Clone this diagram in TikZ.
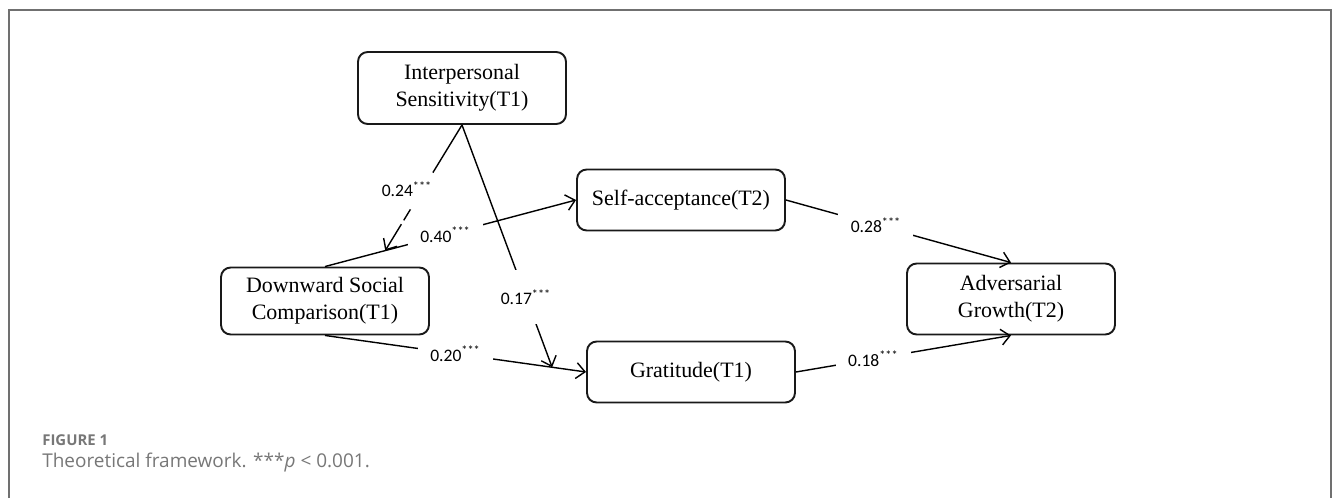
\documentclass[tikz,border=0pt]{standalone}
\usepackage{fontspec}
\setmainfont{Liberation Serif}
\newfontfamily\numfont{Carlito}
\newfontfamily\capfont{Open Sans}
\usetikzlibrary{arrows.meta,calc}
\definecolor{capgray}{HTML}{777777}
\definecolor{framegray}{HTML}{707070}
\tikzset{
  var/.style={draw=black!90, line width=1.1pt, rounded corners=5.5pt,
    minimum width=4.16cm, align=center, font=\fontsize{12.5}{15.5}\selectfont},
  eff/.style={line width=0.8pt, -{Straight Barb[length=5pt,width=9pt]}},
  coef/.style={font=\numfont\fontsize{10}{11}\selectfont, fill=white,
    inner xsep=7pt, inner ysep=3pt},
}
\begin{document}
\begin{tikzpicture}[x=0.02cm,y=-0.02cm]
    \useasboundingbox (0,0) rectangle (1333,498);
    \draw [framegray, line width=1pt] (9,498) -- (9,10) -- (1331,10) -- (1331,498);
    \node [var, minimum height=1.44cm] (is) at (462,88) {Interpersonal\\Sensitivity(T1)};
    \node [var, minimum height=1.22cm] (sa) at (681,200) {Self-acceptance(T2)};
    \node [var, minimum height=1.34cm] (dsc) at (325,301) {Downward Social\\Comparison(T1)};
    \node [var, minimum height=1.42cm] (ag) at (1011,299) {Adversarial\\Growth(T2)};
    \node [var, minimum height=1.22cm] (gr) at (691,372) {Gratitude(T1)};
    \coordinate (m1) at ($(dsc.north)!0.24!(sa.west)$);
    \coordinate (m2) at ($(dsc.south)!0.87!(gr.west)$);
    \draw [eff] (dsc.north) -- node [coef, pos=0.48] {0.40\textsuperscript{***}} (sa.west);
    \draw [eff, dash pattern=on 31.8pt off 24.5pt on 7.3pt off 2.6pt on 80pt] (is.south) -- (m1);
    \node [coef, fill=none] (c24) at (407,189) {0.24\textsuperscript{***}};
    \draw [eff] (is.south) -- node [coef, pos=0.71, inner xsep=2pt, inner ysep=11pt] {0.17\textsuperscript{***}} (m2);
    \draw [eff] (dsc.south) -- node [coef, pos=0.5] {0.20\textsuperscript{***}} (gr.west);
    \draw [eff] (sa.east) -- node [coef, pos=0.4] {0.28\textsuperscript{***}} (ag.north);
    \draw [eff] (gr.east) -- node [coef, pos=0.36] {0.18\textsuperscript{***}} (ag.south);
    \node [anchor=base west, inner sep=0pt, text=capgray,
      font=\capfont\bfseries\fontsize{8.5}{10}\selectfont] (fig) at (42,445) {FIGURE 1};
    \node [anchor=base west, inner sep=0pt, text=capgray,
      font=\capfont\fontsize{10.8}{13}\selectfont] (cap) at (42,467) {Theoretical framework. ***{\itshape p} < 0.001.};
\end{tikzpicture}
\end{document}
